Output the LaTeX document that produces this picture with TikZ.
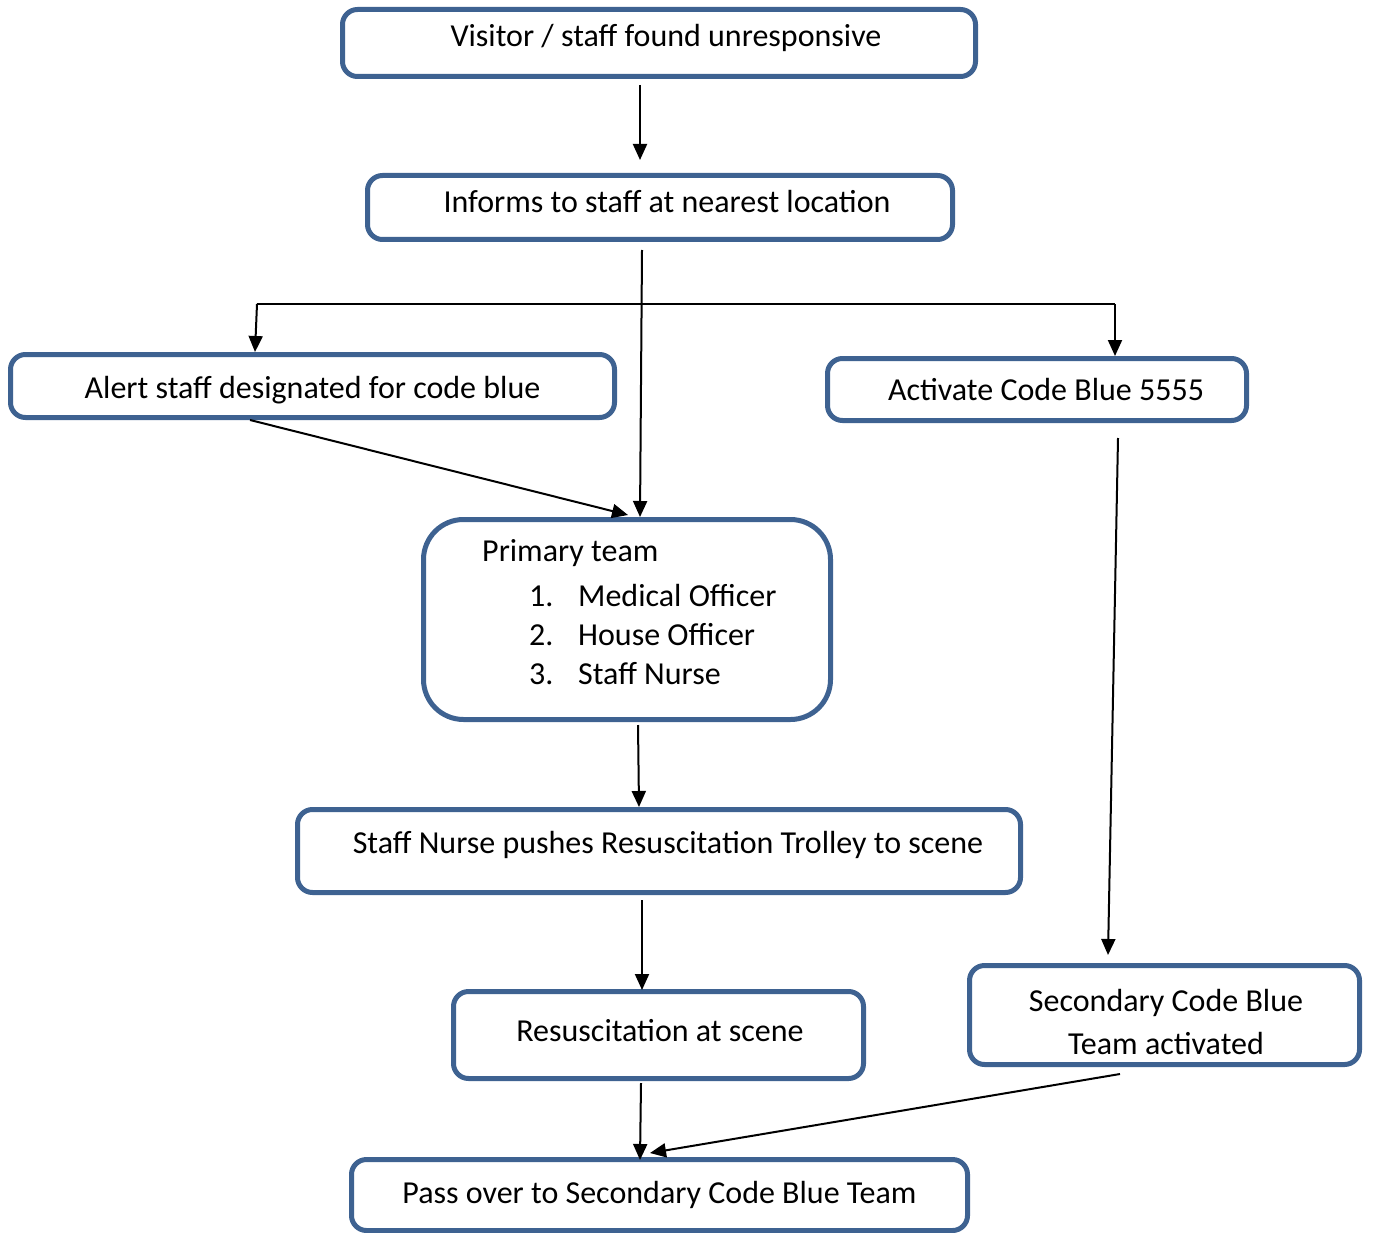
\documentclass[tikz,border=0pt]{standalone}
\usepackage{fontspec}
\setmainfont{Carlito}
\usetikzlibrary{arrows.meta,calc}
\definecolor{boxblue}{HTML}{3E6291}
% box text: #1 horizontal offset, #2 baseline below the box centre, #3 text
\newcommand\boxlabel[3]{\raisebox{-#2pt}[0pt][0pt]{\makebox[0pt][c]{\hspace*{#1pt}\hspace*{#1pt}#3}}}
\begin{document}
\begin{tikzpicture}[x=1pt,y=-1pt,
  box/.style={draw=boxblue, line width=5pt, rounded corners=15pt, fill=white,
    inner sep=0pt, outer sep=0pt, align=center,
    font=\fontsize{32}{43}\selectfont},
  conn/.style={line width=2pt, draw=black},
  arr/.style={conn, -{Triangle[length=16pt,width=14pt]}},
  txt/.style={inner sep=0pt, anchor=base west, font=\fontsize{32}{38}\selectfont}]
\useasboundingbox (0,0) rectangle (1375,1233);

% process boxes
\node[box, minimum width=633pt, minimum height=67pt] (visitor) at (659,43)
  {\boxlabel{7}{4}{Visitor / staff found unresponsive}};
\node[box, minimum width=585pt, minimum height=64pt] (informs) at (660,207.5)
  {\boxlabel{7}{5}{Informs to staff at nearest location}};
\node[box, minimum width=604pt, minimum height=63pt] (alert) at (312.5,386)
  {\boxlabel{0}{12}{Alert staff designated for code blue}};
\node[box, minimum width=419pt, minimum height=62pt] (activate) at (1037,389.5)
  {\boxlabel{9}{11}{Activate Code Blue 5555}};
\node[box, rounded corners=40pt, minimum width=407pt, minimum height=200pt] (primary) at (627,619.5) {};
\node[box, minimum width=723pt, minimum height=83pt] (nurse) at (659,851)
  {\boxlabel{9}{2.5}{Staff Nurse pushes Resuscitation Trolley to scene}};
\node[box, minimum width=410pt, minimum height=87pt] (resus) at (658.5,1035)
  {\boxlabel{1.5}{6.5}{Resuscitation at scene}};
\node[box, minimum width=390pt, minimum height=99pt] (secondary) at (1164.5,1015)
  {\boxlabel{1.5}{-3.5}{\begin{tabular}[t]{@{}c@{}}Secondary Code Blue\\Team activated\end{tabular}}};
\node[box, minimum width=616pt, minimum height=71pt] (pass) at (659.5,1195)
  {\boxlabel{0}{8}{Pass over to Secondary Code Blue Team}};

% primary team list
\node[txt] (ptitle) at (482,561) {Primary team};
\node[txt] (pitem1) at (529,606) {\makebox[49pt][l]{1.}Medical Officer};
\node[txt] (pitem2) at (529,645) {\makebox[49pt][l]{2.}House Officer};
\node[txt] (pitem3) at (529,684) {\makebox[49pt][l]{3.}Staff Nurse};

% branch line
\coordinate (splitL) at (257,304);
\coordinate (splitR) at (1115,304);
\draw[conn] (splitL) -- (splitR);

% connectors
\draw[arr] ($(visitor.south)+(-19,8.5)$) -- ($(informs.north)+(-20,-15.5)$);
\draw[arr] ($(informs.south)+(-18,10.5)$) -- ($(primary.north)+(13,-2.5)$);
\draw[arr] (splitL) -- ($(alert.north)+(-57.5,-2.5)$);
\draw[arr] (splitR) -- ($(activate.north)+(78,-2.5)$);
\draw[arr] ($(alert.south)+(-62.5,2.5)$) -- ($(primary.north)+(1,-4.5)$);
\draw[arr] ($(primary.south)+(11,5.5)$) -- ($(nurse.north)+(-20,-2.5)$);
\draw[arr] ($(activate.south)+(81,17.5)$) -- ($(secondary.north)+(-56.5,-10.5)$);
\draw[arr] ($(nurse.south)+(-17,7.5)$) -- ($(resus.north)+(-16.5,-1.5)$);
\draw[arr] ($(resus.south)+(-17.5,4.5)$) -- ($(pass.north)+(-19.5,0.5)$);
\draw[arr] ($(secondary.south)+(-44.5,9.5)$) -- ($(pass.north)+(-9.5,-6.5)$);
\end{tikzpicture}
\end{document}
